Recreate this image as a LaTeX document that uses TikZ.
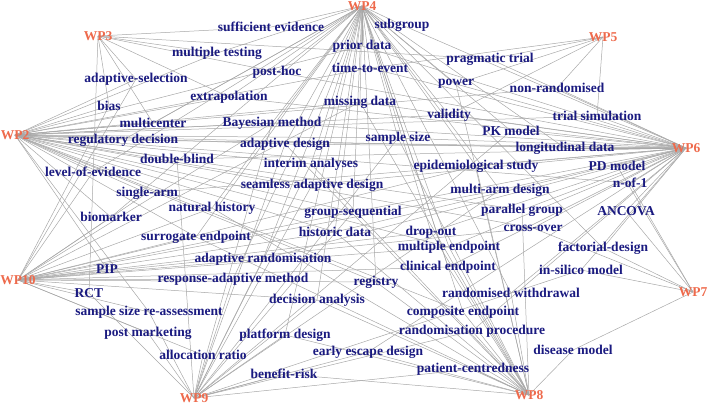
\documentclass[tikz,border=0pt]{standalone}
\usepackage{fontspec}
\setmainfont{Liberation Serif}
\usepackage{xcolor}
\usepackage{tikz}
\usetikzlibrary{backgrounds}

\definecolor{wpred}{HTML}{EE6A4C}
\definecolor{kwblue}{HTML}{1A1A80}
\definecolor{edgegray}{HTML}{A8A8A8}

\begin{document}
\begin{tikzpicture}[x=1pt,y=-1pt,
    wp/.style={text=wpred,inner sep=0pt,font=\bfseries\fontsize{13.5}{15}\selectfont},
    kw/.style={text=kwblue,inner sep=0pt,font=\bfseries\fontsize{13.5}{15}\selectfont},
    edge/.style={draw=edgegray,line width=0.5pt}]
  \useasboundingbox (0,0) rectangle (708,405);

  % work packages
  \node[wp] (wp2) at (15,135) {WP2};
  \node[wp] (wp3) at (98,36) {WP3};
  \node[wp] (wp4) at (362,6) {WP4};
  \node[wp] (wp5) at (603,37) {WP5};
  \node[wp] (wp6) at (686,148) {WP6};
  \node[wp] (wp7) at (693,292) {WP7};
  \node[wp] (wp8) at (529,395) {WP8};
  \node[wp] (wp9) at (194,398) {WP9};
  \node[wp] (wp10) at (18,280) {WP10};

  % keywords
  \node[kw] (sufev) at (271,27) {sufficient evidence};
  \node[kw] (subgroup) at (402,25) {subgroup};
  \node[kw] (priordata) at (362,46) {prior data};
  \node[kw] (multest) at (217,53) {multiple testing};
  \node[kw] (prag) at (490,59) {pragmatic trial};
  \node[kw] (tte) at (370,68) {time-to-event};
  \node[kw] (posthoc) at (277,72) {post-hoc};
  \node[kw] (adsel) at (136,79) {adaptive-selection};
  \node[kw] (power) at (456,84) {power};
  \node[kw] (nonrand) at (557,88) {non-randomised};
  \node[kw] (extra) at (229,97) {extrapolation};
  \node[kw] (missing) at (360,102) {missing data};
  \node[kw] (bias) at (109,106) {bias};
  \node[kw] (validity) at (449,115) {validity};
  \node[kw] (trialsim) at (597,116) {trial simulation};
  \node[kw] (multic) at (153,123) {multicenter};
  \node[kw] (bayes) at (272,123) {Bayesian method};
  \node[kw] (pkmodel) at (511,131) {PK model};
  \node[kw] (samplesize) at (398,138) {sample size};
  \node[kw] (regdec) at (123,140) {regulatory decision};
  \node[kw] (adapdes) at (285,144) {adaptive design};
  \node[kw] (longit) at (565,148) {longitudinal data};
  \node[kw] (dblind) at (177,159) {double-blind};
  \node[kw] (interim) at (311,164) {interim analyses};
  \node[kw] (epid) at (476,166) {epidemiological study};
  \node[kw] (pdmodel) at (617,166) {PD model};
  \node[kw] (levev) at (93,172) {level-of-evidence};
  \node[kw] (nof1) at (630,183) {n-of-1};
  \node[kw] (seamless) at (312,185) {seamless adaptive design};
  \node[kw] (multiarm) at (500,190) {multi-arm design};
  \node[kw] (singarm) at (147,193) {single-arm};
  \node[kw] (nathist) at (212,208) {natural history};
  \node[kw] (parallel) at (522,210) {parallel group};
  \node[kw] (ancova) at (626,211) {ANCOVA};
  \node[kw] (groupseq) at (353,212) {group-sequential};
  \node[kw] (biomark) at (111,217) {biomarker};
  \node[kw] (crossover) at (533,228) {cross-over};
  \node[kw] (dropout) at (431,232) {drop-out};
  \node[kw] (histdata) at (335,232) {historic data};
  \node[kw] (surrog) at (196,237) {surrogate endpoint};
  \node[kw] (multend) at (449,247) {multiple endpoint};
  \node[kw] (factorial) at (603,248) {factorial-design};
  \node[kw] (adaprand) at (263,259) {adaptive randomisation};
  \node[kw] (clinend) at (448,267) {clinical endpoint};
  \node[kw] (pip) at (107,269) {PIP};
  \node[kw] (insilico) at (581,270) {in-silico model};
  \node[kw] (respadap) at (233,279) {response-adaptive method};
  \node[kw] (registry) at (376,282) {registry};
  \node[kw] (rct) at (89,293) {RCT};
  \node[kw] (randwd) at (511,293) {randomised withdrawal};
  \node[kw] (decision) at (317,300) {decision analysis};
  \node[kw] (ssr) at (149,312) {sample size re-assessment};
  \node[kw] (composite) at (463,312) {composite endpoint};
  \node[kw] (randproc) at (472,331) {randomisation procedure};
  \node[kw] (postmark) at (148,333) {post marketing};
  \node[kw] (platform) at (285,335) {platform design};
  \node[kw] (disease) at (573,350) {disease model};
  \node[kw] (early) at (368,352) {early escape design};
  \node[kw] (alloc) at (203,355) {allocation ratio};
  \node[kw] (patient) at (473,369) {patient-centredness};
  \node[kw] (benefit) at (284,374) {benefit-risk};

  % links between work packages and keywords
  \begin{scope}[on background layer]
    \foreach \k in {multest,adsel,extra,bias,multic,bayes,missing,nonrand,validity,trialsim,samplesize,longit,nof1,parallel,crossover,multend,composite,registry,regdec,adapdes,dblind,interim,levev,seamless,singarm,nathist,groupseq,biomark,histdata,surrog,pip,ssr,priordata,tte}
      \draw[edge] (wp2.center) -- (\k.center);
    \foreach \k in {sufev,multest,posthoc,adsel,extra,bias,multic,prag,rct}
      \draw[edge] (wp3.center) -- (\k.center);
    \foreach \k in {sufev,subgroup,priordata,tte,multest,posthoc,extra,multic,bayes,missing,power,validity,pkmodel,samplesize,longit,epid,multiarm,dropout,multend,factorial,clinend,randwd,composite,registry,regdec,adapdes,interim,levev,seamless,nathist,groupseq,biomark,histdata,surrog,adaprand,respadap,decision,platform}
      \draw[edge] (wp4.center) -- (\k.center);
    \foreach \k in {tte,prag,power,nonrand,validity,trialsim}
      \draw[edge] (wp5.center) -- (\k.center);
    \foreach \k in {subgroup,priordata,tte,posthoc,extra,bayes,missing,prag,power,nonrand,validity,trialsim,pkmodel,samplesize,longit,epid,pdmodel,nof1,multiarm,ancova,parallel,crossover,dropout,multend,factorial,clinend,insilico,randwd,randproc,early,regdec,adapdes,dblind,seamless,singarm,groupseq,histdata,adaprand}
      \draw[edge] (wp6.center) -- (\k.center);
    \foreach \k in {pdmodel,nof1,ancova,crossover,factorial,insilico,disease}
      \draw[edge] (wp7.center) -- (\k.center);
    \foreach \k in {missing,power,samplesize,epid,parallel,dropout,multend,clinend,randwd,composite,randproc,disease,patient,registry,adapdes,interim,nathist,histdata,surrog,decision,platform,early,benefit}
      \draw[edge] (wp8.center) -- (\k.center);
    \foreach \k in {bayes,pkmodel,samplesize,multiarm,insilico,randproc,patient,adapdes,dblind,interim,seamless,groupseq,adaprand,respadap,rct,decision,ssr,postmark,platform,alloc,early,benefit}
      \draw[edge] (wp9.center) -- (\k.center);
    \foreach \k in {adsel,bias,bayes,missing,epid,multiarm,crossover,dropout,multend,clinend,registry,levev,singarm,nathist,groupseq,biomark,histdata,surrog,adaprand,pip,respadap,rct,decision,ssr,postmark,alloc}
      \draw[edge] (wp10.center) -- (\k.center);
  \end{scope}
\end{tikzpicture}
\end{document}
